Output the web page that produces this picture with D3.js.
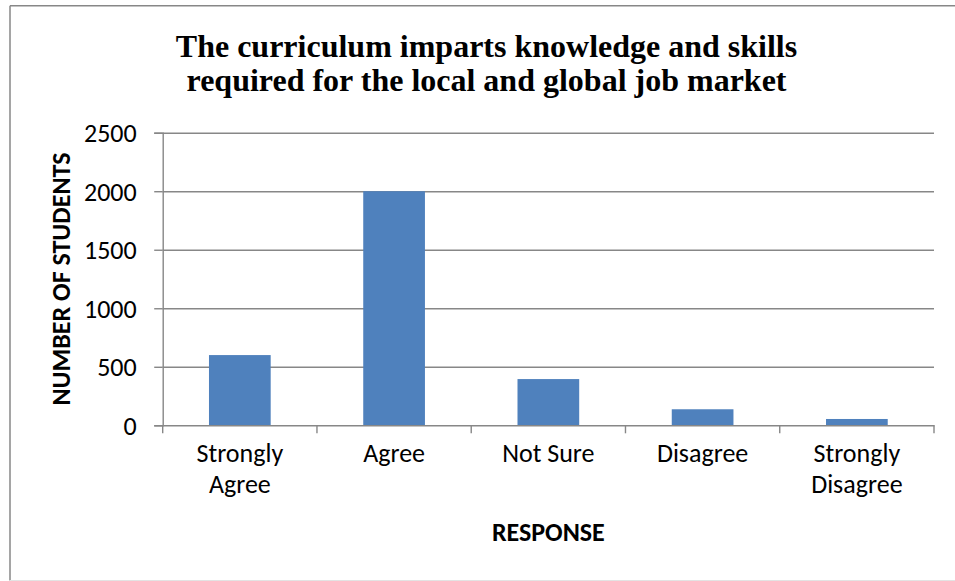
<!DOCTYPE html>
<html>
<head>
<meta charset="utf-8">
<script src="https://cdn.jsdelivr.net/npm/d3@7/dist/d3.min.js"></script>
<style>
  html, body { margin: 0; padding: 0; background: #ffffff; }
  svg { display: block; }
</style>
</head>
<body>
<svg id="chart" width="955" height="581"></svg>
<script>
const titleLines = ["The curriculum imparts knowledge and skills", "required for the local and global job market"];
const categories = ["Strongly Agree", "Agree", "Not Sure", "Disagree", "Strongly Disagree"];
const categoryLabelLines = [["Strongly", "Agree"], ["Agree"], ["Not Sure"], ["Disagree"], ["Strongly", "Disagree"]];
const studentCounts = [600, 2000, 395, 137, 54];
const yTicks = [0, 500, 1000, 1500, 2000, 2500];
const yAxisTitle = "NUMBER OF STUDENTS";
const xAxisTitle = "RESPONSE";

const W = 955, H = 581;
const plot = { left: 162.7, right: 934, top: 132.7, bottom: 425.3 };
const sansFont = "Carlito, 'Open Sans', sans-serif";
const gridColor = "#878787";
const barColor = "#4f81bd";

const svg = d3.select("#chart");

// outer chart frame
svg.append("line").attr("x1", 10).attr("x2", W).attr("y1", 5.7).attr("y2", 5.7)
  .attr("stroke", "#878787").attr("stroke-width", 1.5);
svg.append("line").attr("x1", 10).attr("x2", 10).attr("y1", 5.7).attr("y2", 580.5)
  .attr("stroke", "#878787").attr("stroke-width", 1.5);
svg.append("line").attr("x1", 10).attr("x2", W).attr("y1", 580.5).attr("y2", 580.5)
  .attr("stroke", "#e3e3e3").attr("stroke-width", 1);

const x = d3.scaleBand().domain(categories).range([plot.left, plot.right])
  .paddingInner(0.6).paddingOuter(0.3);
const y = d3.scaleLinear().domain([0, 2500]).range([plot.bottom, plot.top]);

// gridlines
const grid = svg.append("g").attr("transform", `translate(${plot.left},0)`)
  .call(d3.axisRight(y).tickValues(yTicks.filter(v => v > 0)).tickSize(plot.right - plot.left).tickFormat(""));
grid.select(".domain").remove();
grid.selectAll(".tick line").attr("stroke", gridColor).attr("stroke-width", 1.4);

// bars
svg.append("g").selectAll("rect").data(categories).join("rect")
  .attr("x", d => x(d))
  .attr("y", (d, i) => y(studentCounts[i]))
  .attr("width", x.bandwidth())
  .attr("height", (d, i) => y(0) - y(studentCounts[i]))
  .attr("fill", barColor);

// y axis
const yAxis = svg.append("g").attr("transform", `translate(${plot.left},0)`)
  .call(d3.axisLeft(y).tickValues(yTicks).tickSize(8.5).tickPadding(17.5).tickFormat(d3.format("d")));
yAxis.select(".domain").attr("stroke", gridColor).attr("stroke-width", 1.4);
yAxis.selectAll(".tick line").attr("stroke", gridColor).attr("stroke-width", 1.4);
yAxis.selectAll(".tick text").attr("font-family", sansFont).attr("font-size", 26)
  .attr("fill", "#000").attr("dy", "0.35em");

// x axis
const xAxis = svg.append("g").attr("transform", `translate(0,${plot.bottom})`)
  .call(d3.axisBottom(x).tickSize(0).tickFormat(""));
xAxis.select(".domain").attr("stroke", gridColor).attr("stroke-width", 1.4);
xAxis.selectAll(".tick text").remove();
const boundaries = d3.range(categories.length + 1).map(i => x.range()[0] + i * x.step());
xAxis.selectAll(".bound").data(boundaries).join("line").attr("class", "bound")
  .attr("x1", d => d).attr("x2", d => d).attr("y1", 0).attr("y2", 8)
  .attr("stroke", gridColor).attr("stroke-width", 1.4);

// category labels
const catLabels = svg.append("g").selectAll("text").data(categories).join("text")
  .attr("x", d => x(d) + x.bandwidth() / 2)
  .attr("y", plot.bottom + 36.7)
  .attr("text-anchor", "middle")
  .attr("font-family", sansFont).attr("font-size", 26).attr("fill", "#000");
catLabels.each(function(d, i) {
  const t = d3.select(this);
  categoryLabelLines[i].forEach((ln, j) => {
    t.append("tspan").attr("x", x(d) + x.bandwidth() / 2).attr("dy", j === 0 ? 0 : 30.5).text(ln);
  });
});

// axis titles
svg.append("text")
  .attr("transform", `translate(70,${(plot.top + plot.bottom) / 2}) rotate(-90)`)
  .attr("text-anchor", "middle")
  .attr("font-family", sansFont).attr("font-size", 26).attr("font-weight", "bold")
  .attr("fill", "#000").text(yAxisTitle);

svg.append("text")
  .attr("x", (plot.left + plot.right) / 2).attr("y", 540.7)
  .attr("text-anchor", "middle")
  .attr("font-family", sansFont).attr("font-size", 26).attr("font-weight", "bold")
  .attr("fill", "#000").text(xAxisTitle);

// title
svg.append("g").selectAll("text").data(titleLines).join("text")
  .attr("x", 486.5)
  .attr("y", (d, i) => 57.3 + i * 33.4)
  .attr("text-anchor", "middle")
  .attr("font-family", "'Liberation Serif', 'Times New Roman', serif")
  .attr("font-size", 32).attr("font-weight", "bold").attr("fill", "#000")
  .text(d => d);
</script>
</body>
</html>
